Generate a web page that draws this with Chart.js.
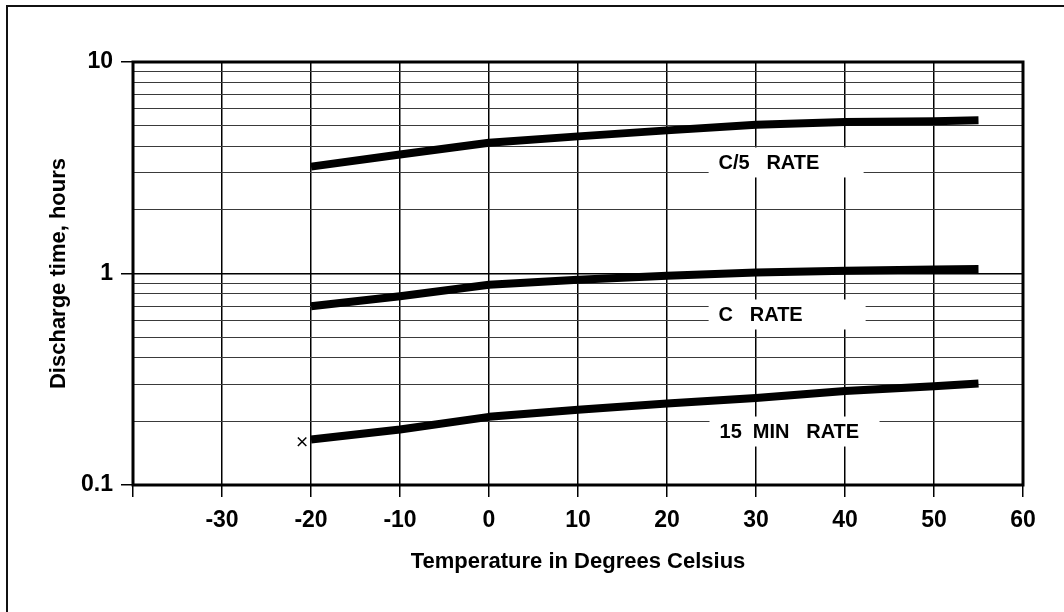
<!DOCTYPE html>
<html>
<head>
<meta charset="utf-8">
<script src="https://cdn.jsdelivr.net/npm/chart.js@4/dist/chart.umd.min.js"></script>
<style>
  html, body { margin: 0; padding: 0; background: #fff; }
  #wrap { width: 1064px; height: 612px; position: relative; }
</style>
</head>
<body>
<div id="wrap"><canvas id="myChart" width="1064" height="612"></canvas></div>
<script>
(function() {
  'use strict';

  // temperatures (deg C) where each curve was read
  var temps = [-20, -10, 0, 10, 20, 30, 40, 50, 55];

  // discharge time in hours
  var c5Rate    = [3.2, 3.65, 4.15, 4.45, 4.75, 5.05, 5.2, 5.25, 5.3];
  var cRate     = [0.70, 0.78, 0.885, 0.935, 0.975, 1.01, 1.03, 1.045, 1.05];
  var min15Rate = [0.164, 0.183, 0.21, 0.227, 0.243, 0.258, 0.278, 0.293, 0.302];

  var curveNames = ['C/5   RATE', 'C   RATE', '15  MIN   RATE'];

  // lone cold-end mark on the 15 min curve
  var markPoint = [{ x: -21, y: 0.16 }];

  var xTicks = [-40, -30, -20, -10, 0, 10, 20, 30, 40, 50, 60];
  var yTicks = [0.1, 0.2, 0.3, 0.4, 0.5, 0.6, 0.7, 0.8, 0.9,
                1, 2, 3, 4, 5, 6, 7, 8, 9, 10];
  var yLabelled = [0.1, 1, 10];

  var font = '"Liberation Sans", Arial, Helvetica, sans-serif';

  function pairs(ys) {
    return temps.map(function(t, i) { return { x: t, y: ys[i] }; });
  }

  function isMajor(v) {
    return yLabelled.indexOf(v) !== -1;
  }

  function curve(label, ys) {
    return {
      type: 'line',
      label: label,
      data: pairs(ys),
      borderColor: '#000',
      borderWidth: 8,
      borderCapStyle: 'butt',
      borderJoinStyle: 'round',
      pointRadius: 0,
      tension: 0,
      fill: false
    };
  }

  // page frame, plot frame and the white boxes holding the curve names
  var decor = {
    id: 'decor',
    // name boxes: left edge of text (deg C), text middle (hours), box width px
    boxes: [
      { x: 25.8, y: 3.35, w: 155 },
      { x: 25.8, y: 0.64, w: 157 },
      { x: 25.9, y: 0.179, w: 170 }
    ],
    beforeDraw: function(chart) {
      var ctx = chart.ctx;
      ctx.save();
      ctx.strokeStyle = '#111';
      ctx.lineWidth = 2;
      ctx.beginPath();
      ctx.moveTo(7, 612);
      ctx.lineTo(7, 6);
      ctx.lineTo(1064, 6);
      ctx.stroke();
      ctx.restore();
    },
    afterDatasetsDraw: function(chart) {
      var ctx = chart.ctx;
      var xs = chart.scales.x, ys = chart.scales.y;
      var a = chart.chartArea;
      ctx.save();
      ctx.font = 'bold 20px ' + font;
      ctx.textAlign = 'left';
      ctx.textBaseline = 'middle';
      this.boxes.forEach(function(b, i) {
        var px = xs.getPixelForValue(b.x);
        var py = ys.getPixelForValue(b.y);
        ctx.fillStyle = '#fff';
        ctx.fillRect(px - 10, py - 15, b.w, 30);
        ctx.fillStyle = '#000';
        ctx.fillText(curveNames[i], px, py + 1);
      });
      ctx.strokeStyle = '#000';
      ctx.lineWidth = 3;
      ctx.strokeRect(a.left, a.top, a.right - a.left, a.bottom - a.top);
      ctx.restore();
    }
  };

  var ctx = document.getElementById('myChart');

  new Chart(ctx, {
    data: {
      datasets: [
        curve(curveNames[0], c5Rate),
        curve(curveNames[1], cRate),
        curve(curveNames[2], min15Rate),
        {
          type: 'scatter',
          label: 'mark',
          data: markPoint,
          pointStyle: 'crossRot',
          pointRadius: 6,
          borderColor: '#000',
          borderWidth: 1.5,
          backgroundColor: '#000'
        }
      ]
    },
    options: {
      responsive: false,
      animation: false,
      events: [],
      layout: { padding: { left: 42, top: 62, right: 41, bottom: 27 } },
      plugins: {
        legend: { display: false },
        tooltip: { enabled: false }
      },
      scales: {
        x: {
          type: 'linear',
          min: -40,
          max: 60,
          afterBuildTicks: function(scale) {
            scale.ticks = xTicks.map(function(v) { return { value: v }; });
          },
          afterFit: function(scale) { scale.height = 100; },
          grid: {
            color: '#000',
            lineWidth: 1.5,
            tickLength: 12,
            tickColor: '#000',
            tickWidth: 1.5
          },
          border: { display: false },
          ticks: {
            autoSkip: false,
            maxRotation: 0,
            padding: 10,
            color: '#000',
            font: { family: font, size: 23, weight: 'bold' },
            callback: function(v) { return v === -40 ? '' : String(v); }
          },
          title: {
            display: true,
            text: 'Temperature in Degrees Celsius',
            color: '#000',
            font: { family: font, size: 22, weight: 'bold' },
            padding: { top: 0, bottom: 10 }
          }
        },
        y: {
          type: 'logarithmic',
          min: 0.1,
          max: 10,
          afterBuildTicks: function(scale) {
            scale.ticks = yTicks.map(function(v) { return { value: v, major: isMajor(v) }; });
          },
          afterFit: function(scale) { scale.width = 91; },
          grid: {
            color: function(c) { return isMajor(c.tick.value) ? '#000' : '#3a3a3a'; },
            lineWidth: function(c) { return isMajor(c.tick.value) ? 1.5 : 1; },
            tickLength: 12,
            tickColor: function(c) { return isMajor(c.tick.value) ? '#000' : 'rgba(0,0,0,0)'; },
            tickWidth: 1.5
          },
          border: { display: false },
          ticks: {
            autoSkip: false,
            padding: 8,
            color: '#000',
            font: { family: font, size: 23, weight: 'bold' },
            callback: function(v) { return isMajor(v) ? String(v) : ''; }
          },
          title: {
            display: true,
            text: 'Discharge time, hours',
            color: '#000',
            font: { family: font, size: 22, weight: 'bold' },
            padding: { top: 4, bottom: 4 }
          }
        }
      }
    },
    plugins: [decor]
  });
})();
</script>
</body>
</html>
